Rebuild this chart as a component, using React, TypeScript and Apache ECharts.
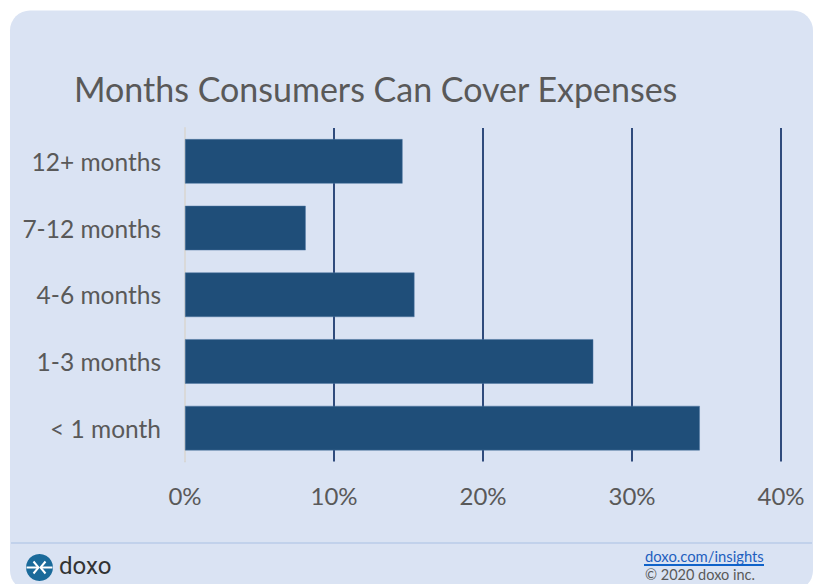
import React, { useEffect, useRef } from "react";
import * as echarts from "echarts";

const categories = ["< 1 month", "1-3 months", "4-6 months", "7-12 months", "12+ months"];
const shares = [34.55, 27.4, 15.4, 8.1, 14.6];
const axisTicks = [0, 10, 20, 30, 40];

const TEXT = "#595959";
const FONT = "Lato, 'Open Sans', sans-serif";

export default function App() {
  const ref = useRef<HTMLDivElement>(null);
  useEffect(() => {
    const chart = echarts.init(ref.current!, undefined, { renderer: "svg" });
    chart.setOption({
      animation: false,
      backgroundColor: "#ffffff",
      title: {
        text: "Months Consumers Can Cover Expenses",
        left: 69,
        top: 66,
        textStyle: { color: TEXT, fontFamily: FONT, fontSize: 34, fontWeight: 400 },
      },
      grid: { left: 185, right: 36, top: 128, bottom: 122.5, containLabel: false },
      xAxis: {
        type: "value",
        min: axisTicks[0],
        max: axisTicks[axisTicks.length - 1],
        interval: 10,
        axisLine: { show: false },
        axisTick: { show: false },
        splitLine: {
          show: true,
          lineStyle: { color: "#2f4b7c", width: 2 },
        },
        axisLabel: {
          color: TEXT,
          fontFamily: FONT,
          fontSize: 24,
          margin: 22,
          formatter: "{value}%",
        },
      },
      yAxis: {
        type: "category",
        data: categories,
        axisLine: { show: true, lineStyle: { color: "#d9d9d9", width: 2 } },
        axisTick: { show: false },
        axisLabel: { color: TEXT, fontFamily: FONT, fontSize: 24.5, margin: 24, padding: [0, 0, 2, 0] },
      },
      series: [
        {
          type: "bar",
          data: shares,
          barWidth: 44.5,
          z: 3,
          itemStyle: { color: "#1f4e79", borderColor: "#4f77a3", borderWidth: 0.5 },
        },
      ],
      graphic: [
        {
          type: "rect",
          z: -10,
          silent: true,
          shape: { x: 10, y: 10.5, width: 803, height: 580, r: 20 },
          style: { fill: "#dae3f3" },
        },
        {
          type: "line",
          z: -9,
          silent: true,
          shape: { x1: 11, y1: 543, x2: 812, y2: 543 },
          style: { stroke: "#a9c0e3", lineWidth: 1 },
        },
        {
          // doxo mark: two arrows meeting in the middle of a round badge
          type: "group",
          x: 39.5,
          y: 567.5,
          children: [
            { type: "circle", shape: { cx: 0, cy: 0, r: 13.5 }, style: { fill: "#1a6a9a" } },
            { type: "line", shape: { x1: -13, y1: 0, x2: -2, y2: 0 }, style: { stroke: "#ffffff", lineWidth: 2 } },
            { type: "line", shape: { x1: 13, y1: 0, x2: 2, y2: 0 }, style: { stroke: "#ffffff", lineWidth: 2 } },
            { type: "polyline", shape: { points: [[-6, -6], [-1, 0], [-6, 6]] }, style: { stroke: "#ffffff", lineWidth: 2, fill: "none" } },
            { type: "polyline", shape: { points: [[6, -6], [1, 0], [6, 6]] }, style: { stroke: "#ffffff", lineWidth: 2, fill: "none" } },
          ],
        },
        {
          type: "text",
          x: 59,
          y: 566,
          style: { text: "doxo", fill: "#333333", font: "400 24px Roboto, sans-serif", textVerticalAlign: "middle" },
        },
        {
          type: "text",
          x: 645,
          y: 556,
          style: { text: "doxo.com/insights", fill: "#1f5fbf", font: "400 14.8px Lato, sans-serif", textVerticalAlign: "middle" },
        },
        {
          type: "line",
          shape: { x1: 644, y1: 565, x2: 764, y2: 565 },
          style: { stroke: "#0f62c9", lineWidth: 2 },
        },
        {
          type: "text",
          x: 645,
          y: 574,
          style: { text: "© 2020 doxo inc.", fill: TEXT, font: "400 14.5px Lato, sans-serif", textVerticalAlign: "middle" },
        },
      ],
    });
    return () => chart.dispose();
  }, []);
  return <div ref={ref} style={{ position: "absolute", left: 0, top: 0, width: 817, height: 584 }} />;
}
